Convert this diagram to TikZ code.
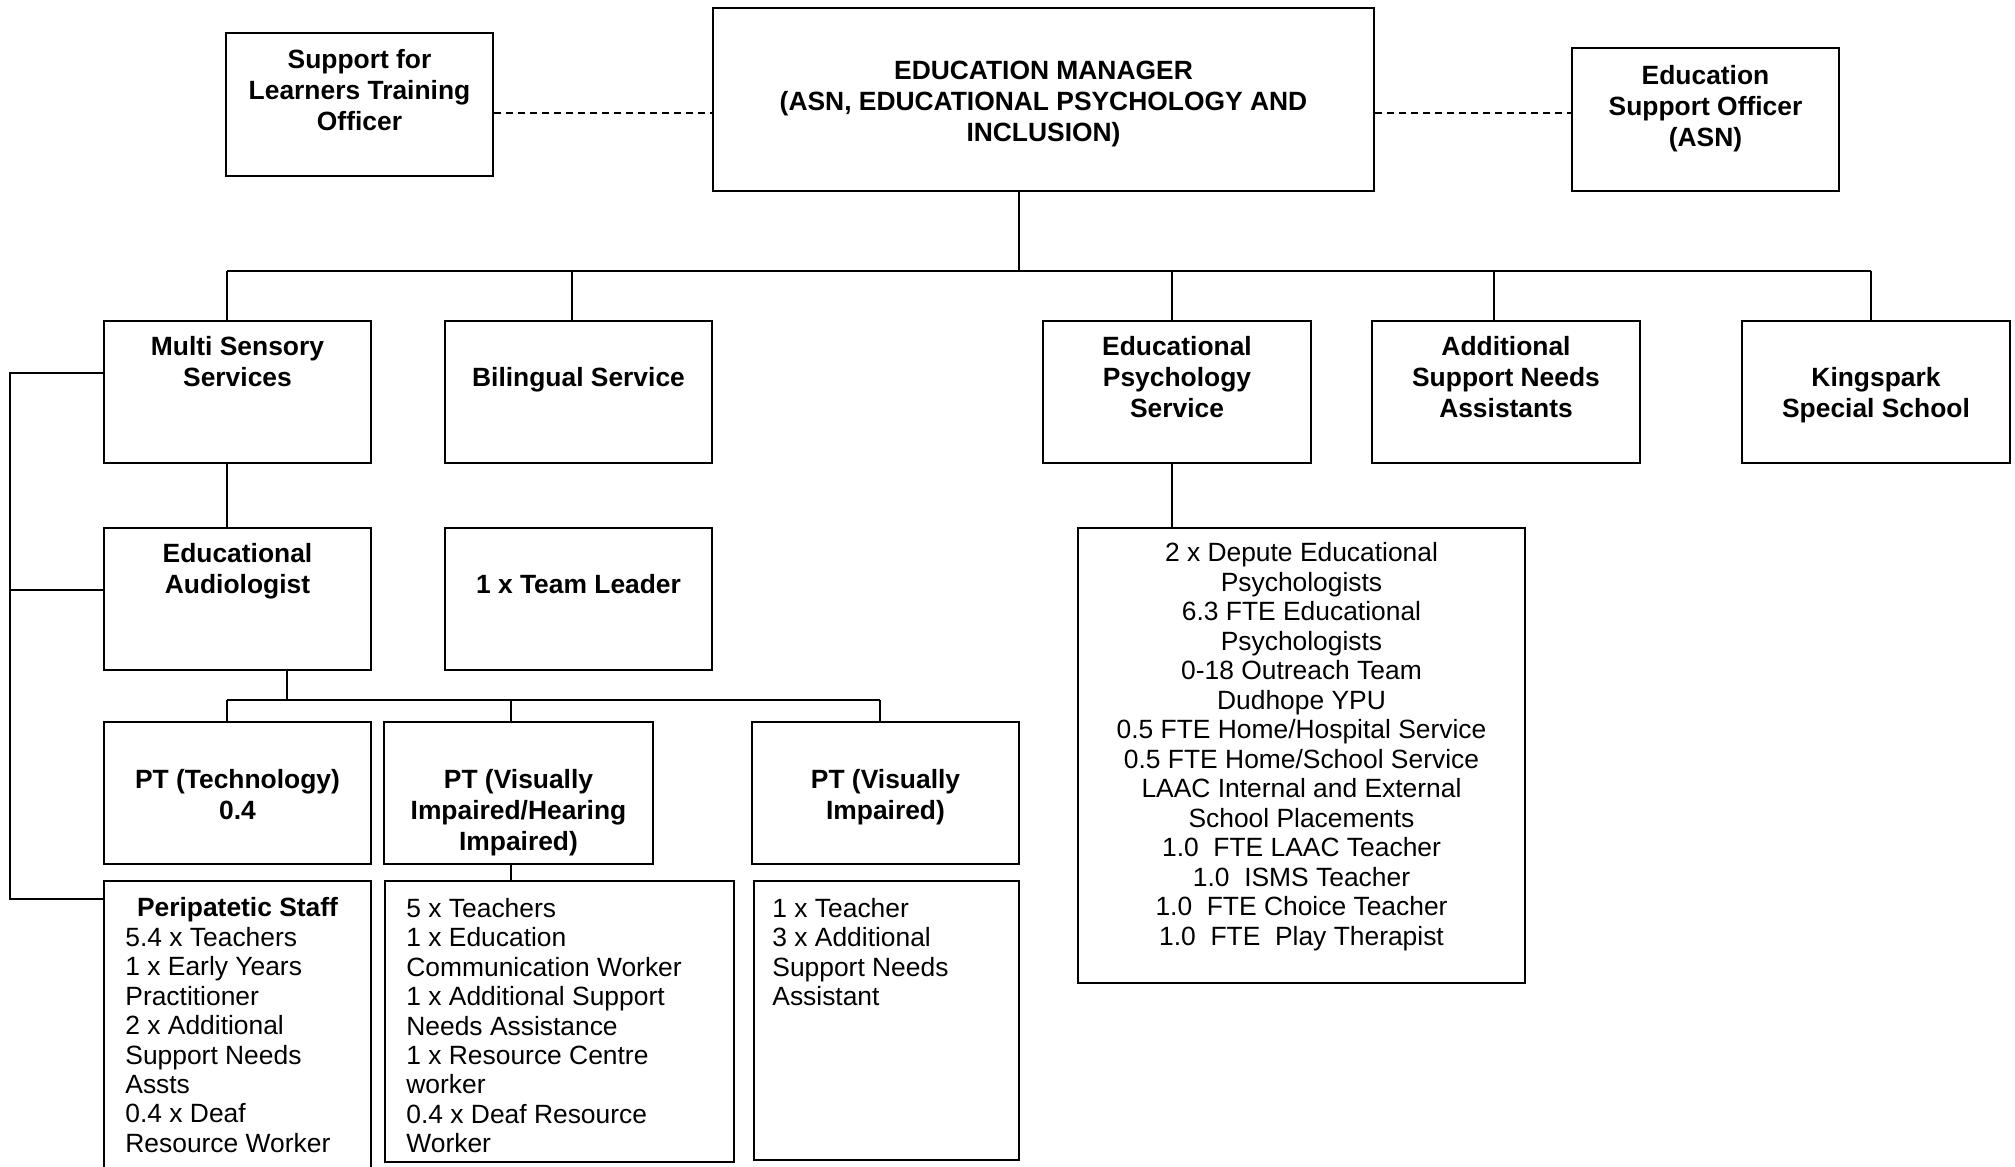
\documentclass[tikz,border=0pt]{standalone}
\usepackage{fontspec}
\setmainfont{Liberation Sans}
\usetikzlibrary{calc,fit,positioning}

\tikzset{
  box/.style={draw, line width=0.9pt, inner sep=0pt},
  head/.style={font=\fontsize{13.2}{15.4}\selectfont\bfseries, align=center, anchor=north, inner sep=0pt},
  txt/.style={font=\fontsize{13.2}{14.75}\selectfont, align=center, anchor=north, inner sep=0pt},
  lst/.style={font=\fontsize{13.2}{14.7}\selectfont, align=left, anchor=north west, inner sep=0pt},
  link/.style={line width=0.9pt},
  dots/.style={line width=0.9pt, dash pattern=on 3.5pt off 2.5pt}
}

\begin{document}
\begin{tikzpicture}[x=0.5pt,y=-0.5pt]
  \useasboundingbox (0,0) rectangle (2015,1167);

  % top row
  \node[box, fit={(226,33) (493,176)}]   (slt) {};
  \node[box, fit={(713,8) (1374,191)}]   (mgr) {};
  \node[box, fit={(1572,48) (1839,191)}] (eso) {};

  \node[head] (slt-t) at ($(slt.north)+(0,17)$) {Support for\\Learners Training\\Officer};
  \node[head] (mgr-t) at ($(mgr.north)+(0,54)$) {EDUCATION MANAGER\\(ASN, EDUCATIONAL PSYCHOLOGY AND\\INCLUSION)};
  \node[head] (eso-t) at ($(eso.north)+(0,18)$) {Education\\Support Officer\\(ASN)};

  % services
  \node[box, fit={(104,321) (371,463)}]   (ms)  {};
  \node[box, fit={(445,321) (712,463)}]   (bil) {};
  \node[box, fit={(1043,321) (1311,463)}] (ep)  {};
  \node[box, fit={(1372,321) (1640,463)}] (asn) {};
  \node[box, fit={(1742,321) (2010,463)}] (ks)  {};

  \node[head] (ms-t)  at ($(ms.north)+(0,16)$)  {Multi Sensory\\Services};
  \node[head] (bil-t) at ($(bil.north)+(0,47)$) {Bilingual Service};
  \node[head] (ep-t)  at ($(ep.north)+(0,16)$)  {Educational\\Psychology\\Service};
  \node[head] (asn-t) at ($(asn.north)+(0,16)$) {Additional\\Support Needs\\Assistants};
  \node[head] (ks-t)  at ($(ks.north)+(0,47)$)  {Kingspark\\Special School};

  % third row
  \node[box, fit={(104,528) (371,670)}]   (aud) {};
  \node[box, fit={(445,528) (712,670)}]   (tl)  {};
  \node[box, fit={(1078,528) (1525,983)}] (epl) {};

  \node[head] (aud-t) at ($(aud.north)+(0,16)$) {Educational\\Audiologist};
  \node[head] (tl-t)  at ($(tl.north)+(0,47)$)  {1 x Team Leader};
  \node[txt]  (epl-t) at ($(epl.north)+(0,15)$) {2 x Depute Educational\\Psychologists\\6.3 FTE Educational\\Psychologists\\0-18 Outreach Team\\Dudhope YPU\\0.5 FTE Home/Hospital Service\\0.5 FTE Home/School Service\\LAAC Internal and External\\School Placements\\1.0\ \ FTE LAAC Teacher\\1.0\ \ ISMS Teacher\\1.0\ \ FTE Choice Teacher\\1.0\ \ FTE\ \ Play Therapist};

  % PT row
  \node[box, fit={(104,722) (371,864)}]  (ptt) {};
  \node[box, fit={(384,722) (653,864)}]  (ptv) {};
  \node[box, fit={(752,722) (1019,864)}] (pvi) {};

  \node[head] (ptt-t) at ($(ptt.north)+(0,48)$) {PT (Technology)\\0.4};
  \node[head] (ptv-t) at ($(ptv.north)+(0,48)$) {PT (Visually\\Impaired/Hearing\\Impaired)};
  \node[head] (pvi-t) at ($(pvi.north)+(0,48)$) {PT (Visually\\Impaired)};

  % staff lists
  \node[box, fit={(104,881) (371,1200)}]  (peri) {};
  \node[box, fit={(385,881) (734,1162)}]  (pvl)  {};
  \node[box, fit={(754,881) (1019,1160)}] (vil)  {};

  \node[head] (peri-t) at ($(peri.north)+(0,17)$) {Peripatetic Staff};
  \node[lst]  (peri-l) at (125,927) {5.4 x Teachers\\1 x Early Years\\Practitioner\\2 x Additional\\Support Needs\\Assts\\0.4 x Deaf\\Resource Worker};
  \node[lst]  (pvl-l) at (406,898) {5 x Teachers\\1 x Education\\Communication Worker\\1 x Additional Support\\Needs Assistance\\1 x Resource Centre\\worker\\0.4 x Deaf Resource\\Worker};
  \node[lst]  (vil-l) at (772,898) {1 x Teacher\\3 x Additional\\Support Needs\\Assistant};

  % dotted links
  \coordinate (d) at (0,113);
  \draw[dots] (slt.east |- d) -- (mgr.west |- d);
  \draw[dots] (mgr.east |- d) -- (eso.west |- d);

  % main bus
  \coordinate (b0) at (1019,271);
  \coordinate (b1) at (227,271);
  \coordinate (b2) at (572,271);
  \coordinate (b3) at (1172,271);
  \coordinate (b4) at (1494,271);
  \coordinate (b5) at (1871,271);
  \draw[link] (b0 |- mgr.south) -- (b0);
  \draw[link] (b1) -- (b5);
  \foreach \c/\n in {b1/ms,b2/bil,b3/ep,b4/asn,b5/ks}
    \draw[link] (\c) -- (\c |- \n.north);
  \draw[link] (b1 |- ms.south) -- (b1 |- aud.north);
  \draw[link] (b3 |- ep.south) -- (b3 |- epl.north);

  % audiologist bus
  \coordinate (c0) at (287,700);
  \coordinate (c1) at (227,700);
  \coordinate (c2) at (511,700);
  \coordinate (c3) at (880,700);
  \draw[link] (c0 |- aud.south) -- (c0);
  \draw[link] (c1) -- (c3);
  \foreach \c/\n in {c1/ptt,c2/ptv,c3/pvi}
    \draw[link] (\c) -- (\c |- \n.north);
  \draw[link] (c2 |- ptv.south) -- (c2 |- pvl.north);

  % left bracket
  \coordinate (s1) at (10,373);
  \coordinate (s2) at (10,590);
  \coordinate (s3) at (10,899);
  \draw[link] (ms.west |- s1) -- (s1) -- (s3) -- (peri.west |- s3);
  \draw[link] (s2) -- (aud.west |- s2);
\end{tikzpicture}
\end{document}
